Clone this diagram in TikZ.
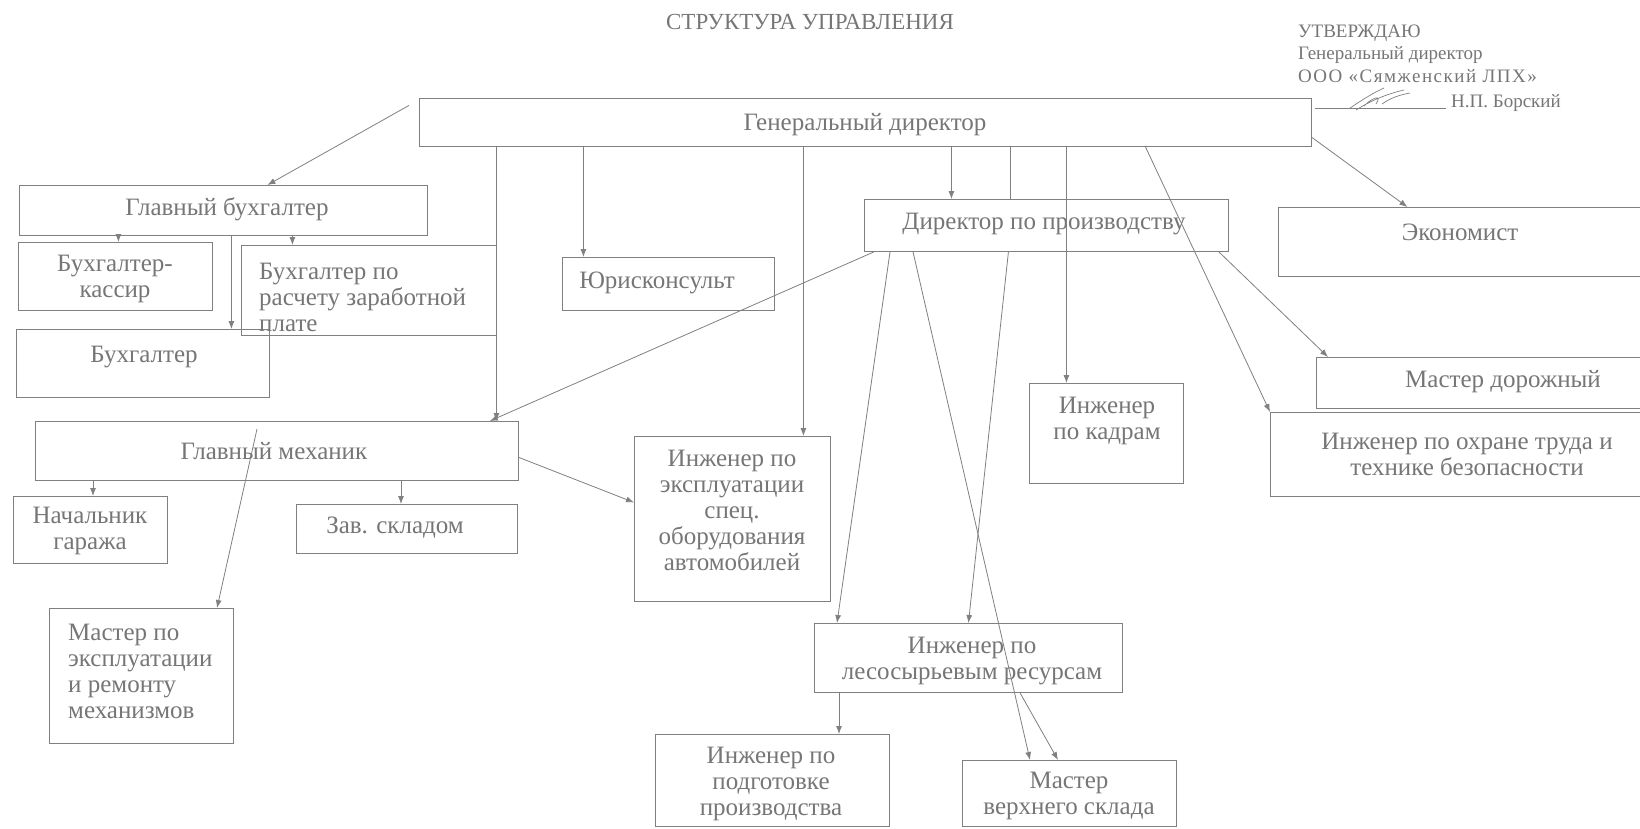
\documentclass[tikz,border=0pt]{standalone}
\usepackage{fontspec}
\setmainfont{Liberation Serif}
\usetikzlibrary{arrows.meta}
\definecolor{tc}{HTML}{767676}
\definecolor{lc}{HTML}{808080}
\begin{document}
\begin{tikzpicture}[x=1pt,y=-1pt,
  box/.style={draw=lc, line width=0.85pt, rectangle, inner sep=0pt, anchor=north west},
  lbl/.style={text=tc, inner sep=0pt, align=center, yshift=-3pt, font=\fontsize{25}{26}\selectfont},
  small/.style={text=tc, inner sep=0pt, anchor=west, font=\fontsize{19}{24}\selectfont},
  arr/.style={draw=lc, line width=0.8pt, -{Latex[length=8pt,width=6pt]}},
  ln/.style={draw=lc, line width=0.8pt}]
\fill[white] (0,0) rectangle (1640,828);
\useasboundingbox (0,0) rectangle (1640,828);
\clip (0,0) rectangle (1640,828);

% title and approval block
\node[lbl, font=\fontsize{23}{26}\selectfont] (title) at (810,19) {СТРУКТУРА УПРАВЛЕНИЯ};
\node[small] (ap1) at (1298,33) {УТВЕРЖДАЮ};
\node[small] (ap2) at (1298,55) {Генеральный директор};
\node[small, font=\fontsize{19}{24}\selectfont\addfontfeature{LetterSpace=8}] (ap3) at (1298,76) {ООО «Сямженский ЛПХ»};
\node[small] (ap4) at (1451,103) {Н.П. Борский};
\draw[ln] (1315,108) -- (1446,108);
\draw[ln, line width=0.7pt] (1350,108) .. controls (1365,98) and (1375,92) .. (1384,88)
  (1356,110) .. controls (1372,100) and (1387,94) .. (1404,90)
  (1364,106) .. controls (1374,96) and (1382,95) .. (1376,104)
  (1382,104) .. controls (1392,97) and (1400,95) .. (1410,93);

% boxes
\node[box, minimum width=892pt, minimum height=48pt] (gd) at (419,98) {};
\node[box, minimum width=408pt, minimum height=50pt] (gb) at (19,185) {};
\node[box, minimum width=194pt, minimum height=68pt] (bk) at (18,242) {};
\node[box, minimum width=255pt, minimum height=90pt] (br) at (241,245) {};
\node[box, minimum width=253pt, minimum height=68pt] (bu) at (16,329) {};
\node[box, minimum width=212pt, minimum height=53pt] (yu) at (562,257) {};
\node[box, minimum width=364pt, minimum height=52pt] (dp) at (864,199) {};
\node[box, minimum width=382pt, minimum height=69pt] (ek) at (1278,207) {};
\node[box, minimum width=344pt, minimum height=51pt] (md) at (1316,357) {};
\node[box, minimum width=390pt, minimum height=84pt] (io) at (1270,412) {};
\node[box, minimum width=154pt, minimum height=100pt] (ik) at (1029,383) {};
\node[box, minimum width=483pt, minimum height=59pt] (gm) at (35,421) {};
\node[box, minimum width=154pt, minimum height=67pt] (ng) at (13,496) {};
\node[box, minimum width=221pt, minimum height=49pt] (zs) at (296,504) {};
\node[box, minimum width=196pt, minimum height=165pt] (ie) at (634,436) {};
\node[box, minimum width=184pt, minimum height=135pt] (mm) at (49,608) {};
\node[box, minimum width=308pt, minimum height=69pt] (il) at (814,623) {};
\node[box, minimum width=234pt, minimum height=92pt] (ip) at (655,734) {};
\node[box, minimum width=214pt, minimum height=66pt] (mv) at (962,760) {};

% texts
\node[lbl] (gdt) at (865,122) {Генеральный директор};
\node[lbl] (gbt) at (227,206) {Главный бухгалтер};
\node[lbl] (bkt) at (115,276) {Бухгалтер-\\кассир};
\node[lbl, anchor=west, align=left] (brt) at (259,294) {Бухгалтер по\\расчету заработной\\плате};
\node[lbl] (but) at (144,354) {Бухгалтер};
\node[lbl] (yut) at (657,280) {Юрисконсульт};
\node[lbl] (dpt) at (1044,221) {Директор по производству};
\node[lbl] (ekt) at (1460,229) {Экономист};
\node[lbl] (mdt) at (1503,379) {Мастер дорожный};
\node[lbl] (iot) at (1467,451) {Инженер по охране труда и\\технике безопасности};
\node[lbl] (ikt) at (1107,418) {Инженер\\по кадрам};
\node[lbl] (gmt) at (274,448) {Главный механик};
\node[lbl] (ngt) at (90,528) {Начальник\\гаража};
\node[lbl] (zst) at (395,525) {Зав. складом};
\node[lbl] (iet) at (732,507) {Инженер по\\эксплуатации\\спец.\\оборудования\\автомобилей};
\node[lbl, anchor=west, align=left] (mmt) at (68,668) {Мастер по\\эксплуатации\\и ремонту\\механизмов};
\node[lbl] (ilt) at (972,658) {Инженер по\\лесосырьевым ресурсам};
\node[lbl] (ipt) at (771,781) {Инженер по\\подготовке\\производства};
\node[lbl] (mvt) at (1069,793) {Мастер\\верхнего склада};

% connectors
\draw[arr] ([xshift=-10pt,yshift=17pt]gd.west) -- ([xshift=44pt]gb.north);
\draw[arr] ([xshift=-105pt]gb.south) -- ([xshift=3pt]bk.north);
\draw[arr] ([xshift=69pt]gb.south) -- ([xshift=-76.5pt]br.north);
\draw[arr] ([xshift=8pt]gb.south) -- ([xshift=88.5pt]bu.north);
\draw[arr] ([xshift=-369pt]gd.south) -- ([xshift=219.5pt]gm.north);
\draw[arr] ([xshift=-282pt]gd.south) -- ([xshift=-85pt]yu.north);
\draw[arr] ([xshift=-62pt]gd.south) -- ([xshift=71pt]ie.north);
\draw[arr] ([xshift=86pt]gd.south) -- ([xshift=-95pt]dp.north);
\draw[ln] ([xshift=145pt]gd.south) -- ([xshift=-36pt]dp.north);
\draw[arr] ([xshift=-38pt]dp.south) -- (il.north);
\draw[arr] ([xshift=201pt]gd.south) -- ([xshift=-40pt]ik.north);
\draw[arr] ([xshift=280pt]gd.south) -- (io.north west);
\draw[arr] ([yshift=-15pt]gd.east) -- ([xshift=-62pt]ek.north);
\draw[arr] ([xshift=-10pt]dp.south east) -- ([xshift=12pt]md.north west);
\draw[arr] ([xshift=10pt]dp.south west) -- ([xshift=-29pt]gm.north east);
\draw[arr] ([xshift=26pt]dp.south west) -- ([xshift=23pt]il.north west);
\draw[arr] ([xshift=49pt]dp.south west) -- ([xshift=68pt]mv.north west);
\draw[arr] ([xshift=206pt]il.south west) -- ([xshift=96pt]mv.north west);
\draw[arr] ([xshift=25pt]il.south west) -- ([xshift=184pt]ip.north west);
\draw[arr] ([xshift=58pt]gm.south west) -- ([xshift=80pt]ng.north west);
\draw[arr] ([xshift=366pt]gm.south west) -- ([xshift=105pt]zs.north west);
\draw[arr] ([xshift=222pt,yshift=-8pt]gm.north west) -- ([xshift=168pt]mm.north west);
\draw[arr] ([yshift=-6.5pt]gm.east) -- ([yshift=16.5pt]ie.west);
\end{tikzpicture}
\end{document}
